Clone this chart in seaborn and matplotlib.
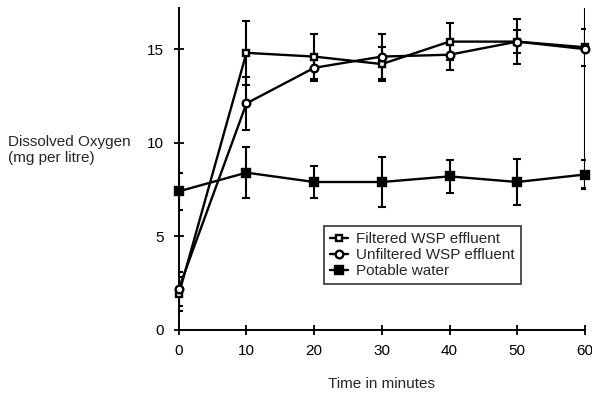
import numpy as np
import pandas as pd
import matplotlib
matplotlib.use("Agg")
import matplotlib.pyplot as plt
import seaborn as sns

time = [0, 10, 20, 30, 40, 50, 60]
filtered = [1.9, 14.8, 14.6, 14.2, 15.4, 15.4, 15.1]
filtered_err = [0.9, 1.7, 1.2, 0.9, 1.0, 1.2, 1.0]
unfiltered = [2.2, 12.1, 14.0, 14.6, 14.7, 15.4, 15.0]
unfiltered_err = [0.9, 1.4, 0.7, 1.2, 0.8, 0.6, 7.4]
potable = [7.4, 8.4, 7.9, 7.9, 8.2, 7.9, 8.3]
potable_err = [1.0, 1.35, 0.85, 1.35, 0.9, 1.25, 0.75]
labels = ["Filtered WSP effluent", "Unfiltered WSP effluent", "Potable water"]

sns.set_theme(style="ticks")
plt.rcParams['font.family'] = ['Liberation Sans', 'DejaVu Sans']

df = pd.DataFrame({
    "time": time * 3,
    "value": filtered + unfiltered + potable,
    "series": [labels[0]] * 7 + [labels[1]] * 7 + [labels[2]] * 7,
})

fig = plt.figure(figsize=(5.92, 3.96), dpi=100)
ax = fig.add_axes([0.302, 0.167, 0.686, 0.813])

styles = {
    labels[0]: dict(marker="s", mfc="white", ms=5),
    labels[1]: dict(marker="o", mfc="white", ms=5.5),
    labels[2]: dict(marker="s", mfc="black", ms=6),
}
errs = {labels[0]: filtered_err, labels[1]: unfiltered_err, labels[2]: potable_err}

sns.lineplot(data=df, x="time", y="value", hue="series", palette=["black"] * 3,
             legend=False, ax=ax, linewidth=1.6, zorder=3)
for ln in ax.lines:
    ln.set_visible(False)

handles = []
for lab in labels:
    sub = df[df.series == lab]
    st = styles[lab]
    h, = ax.plot(sub.time, sub.value, color="black", lw=1.7, marker=st["marker"],
                 mfc=st["mfc"], mec="black", mew=1.7, ms=st["ms"], clip_on=False,
                 zorder=4, label=lab)
    handles.append(h)
    ax.errorbar(sub.time, sub.value, yerr=errs[lab], fmt="none", ecolor="black",
                elinewidth=1.5, capsize=3, capthick=1.5, zorder=3)

ax.set_xlim(0, 60)
ax.set_ylim(0, 17.2)
ax.set_xticks([0, 10, 20, 30, 40, 50, 60])
ax.set_yticks([0, 5, 10, 15])
ax.tick_params(direction="inout", length=7, width=1.3, labelsize=11, colors="black", pad=7)
for s in ["top", "right"]:
    ax.spines[s].set_visible(False)
for s in ["left", "bottom"]:
    ax.spines[s].set_linewidth(1.4)
    ax.spines[s].set_color("black")
ax.set_xlabel("Time in minutes", fontsize=11, labelpad=13)
ax.set_ylabel("")
fig.text(0.014, 0.621, "Dissolved Oxygen\n(mg per litre)", fontsize=11,
         va="center", ha="left", linespacing=1.25)

leg = ax.legend(handles=handles, labels=labels, loc="lower left",
                bbox_to_anchor=(0.338, 0.118), frameon=True, fancybox=False,
                edgecolor="black", fontsize=11, handlelength=1.2,
                handletextpad=0.5, borderpad=0.4, labelspacing=0.12)
leg.get_frame().set_linewidth(1.2)

fig.savefig("out.png", dpi=100)
